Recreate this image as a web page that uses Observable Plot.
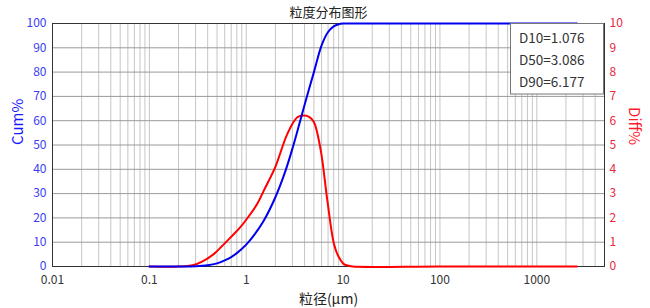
<!DOCTYPE html>
<html>
<head>
<meta charset="utf-8">
<script src="https://cdn.jsdelivr.net/npm/d3@7"></script>
<script src="https://cdn.jsdelivr.net/npm/@observablehq/plot@0.6"></script>
<style>
  html, body { margin: 0; padding: 0; background: #fff; }
  #chart svg { display: block; }
</style>
</head>
<body>
<div id="chart"></div>
<script>
// Cumulative distribution (Cum%)
const cumSize = [0.1, 0.2, 0.3, 0.4, 0.5, 0.6, 0.7, 0.8, 1.0, 1.2, 1.5, 2.0, 2.5, 3.0, 3.5, 4.0, 5.0, 6.0, 7.0, 8.0, 9.0, 10, 12, 100, 1000, 2600];
const cumPct  = [0, 0, 0.1, 0.5, 1.3, 2.5, 3.9, 5.5, 9.0, 12.8, 18.5, 28.5, 38.5, 48.5, 58, 66.5, 80, 91, 96.5, 98.8, 99.7, 100, 100, 100, 100, 100];

// Differential distribution (Diff%)
const diffSize = [0.1, 0.2, 0.28, 0.35, 0.465, 0.55, 0.69, 0.87, 1.11, 1.3, 1.58, 2.0, 2.66, 3.37, 3.95, 4.5, 5.0, 5.87, 6.88, 8.05, 9.0, 10.2, 11.5, 12.5, 100, 1000, 2600];
const diffPct  = [0, 0, 0.05, 0.2, 0.52, 0.8, 1.2, 1.62, 2.17, 2.58, 3.26, 4.1, 5.46, 6.14, 6.21, 6.15, 5.95, 4.8, 2.72, 0.93, 0.4, 0.1, 0.03, 0, 0, 0, 0];

// Axis ticks / labels
const xTicks = [0.01, 0.1, 1, 10, 100, 1000];
const cumTicks = [0, 10, 20, 30, 40, 50, 60, 70, 80, 90, 100];
const diffTicks = [0, 1, 2, 3, 4, 5, 6, 7, 8, 9, 10];
const gridX = [];
for (const dec of [0.01, 0.1, 1, 10, 100, 1000]) {
  for (let m = 1; m <= 9; m++) {
    const v = +(dec * m).toPrecision(3);
    if (v > 0.01 && v < 5000) gridX.push(v);
  }
}
const gridY = [10, 20, 30, 40, 50, 60, 70, 80, 90];

const title = "粒度分布图形";
const xLabel = "粒径(μm)";
const yLabelLeft = "Cum%";
const yLabelRight = "Diff%";
const legendLines = ["D10=1.076", "D50=3.086", "D90=6.177"];

const cumData = cumSize.map((s, i) => ({size: s, cum: cumPct[i]}));
const diffData = diffSize.map((s, i) => ({size: s, diff: diffPct[i]}));
const diffScale = 10; // Diff% 0-10 shares the Cum% 0-100 scale

const font = "'Noto Sans CJK SC', 'Noto Sans', sans-serif";

const plot = Plot.plot({
  width: 650,
  height: 308,
  marginLeft: 52,
  marginRight: 46,
  marginTop: 23,
  marginBottom: 42,
  style: {fontFamily: font, fontSize: "12px", background: "white", overflow: "visible"},
  x: {type: "log", domain: [0.01, 5000]},
  y: {domain: [0, 100]},
  marks: [
    Plot.ruleX(gridX, {stroke: "#c6c6c6", strokeWidth: 1}),
    Plot.ruleY(gridY, {stroke: "#9a9a9a", strokeWidth: 1}),
    Plot.frame({stroke: "#333"}),
    Plot.line(diffData, {x: "size", y: d => d.diff * diffScale, stroke: "#ff0000", strokeWidth: 2, curve: "catmull-rom"}),
    Plot.line(cumData, {x: "size", y: "cum", stroke: "#0000ee", strokeWidth: 2, curve: "catmull-rom"}),
    Plot.axisX(xTicks, {tickSize: 0, tickPadding: 9, tickFormat: d => String(d), color: "#333", fontSize: 12, label: null}),
    Plot.axisY(cumTicks, {anchor: "left", tickSize: 0, tickPadding: 6, color: "#3b3bf0", fontSize: 12, label: null}),
    Plot.axisY(diffTicks.map(d => d * diffScale), {anchor: "right", tickSize: 0, tickPadding: 5, tickFormat: d => String(d / diffScale), color: "#e8283c", fontSize: 12, label: null}),
    Plot.text([title], {frameAnchor: "top", lineAnchor: "middle", dy: -11, fontSize: 13, fill: "#222"}),
    Plot.text([xLabel], {frameAnchor: "bottom", lineAnchor: "middle", dy: 33, fontSize: 14, fill: "#222"}),
    Plot.text([yLabelLeft], {frameAnchor: "left", dx: -34, rotate: -90, fontSize: 15, fill: "#1a1aff"}),
    Plot.text([yLabelRight], {frameAnchor: "right", dx: 29, rotate: 90, fontSize: 15, fill: "#ff1a2a"})
  ]
});

document.getElementById("chart").appendChild(plot);

// Legend box with D-values (top-right corner of frame)
const svg = d3.select(plot);
const g = svg.append("g")
  .attr("font-family", font)
  .attr("text-anchor", "start");
g.append("rect")
  .attr("x", 510.5).attr("y", 23.5)
  .attr("width", 93).attr("height", 70.5)
  .attr("fill", "white").attr("stroke", "#777");
g.selectAll("text.leg").data(legendLines).join("text")
  .attr("class", "leg")
  .attr("x", 519)
  .attr("y", (d, i) => 38 + i * 22)
  .attr("dy", "0.35em")
  .attr("text-anchor", "start")
  .attr("font-size", 13.5)
  .attr("fill", "#333")
  .text(d => d);
</script>
</body>
</html>
